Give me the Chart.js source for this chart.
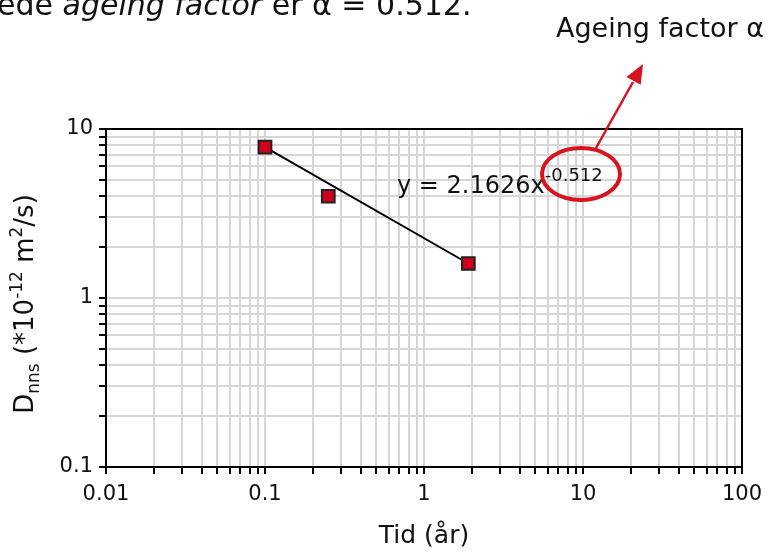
<!DOCTYPE html>
<html>
<head>
<meta charset="utf-8">
<script src="https://cdn.jsdelivr.net/npm/chart.js@4"></script>
<style>
  body { margin: 0; background: #fff; }
  canvas { display: block; }
</style>
</head>
<body>
<canvas id="chart" width="775" height="551"></canvas>
<script>
// values
const timeYears = [0.1, 0.25, 1.9];
const dnnsValues = [7.8, 4.0, 1.6];
const trendX = [0.1, 1.9];
const trendY = [7.8, 1.6];
const xTickLabels = ['0.01', '0.1', '1', '10', '100'];
const yTickLabels = ['0.1', '1', '10'];

const FONT = '"DejaVu Sans", Verdana, sans-serif';
const TXT = '#111';
const RED = '#d7141e';

function logTicks(min, max) {
    const out = [];
    for (let e = Math.round(Math.log10(min)); e < Math.round(Math.log10(max)); e++) {
        for (let s = 1; s < 10; s++) out.push({ value: Number((s * Math.pow(10, e)).toPrecision(3)) });
    }
    out.push({ value: max });
    return out;
}

// draws runs of text with sub/superscript; returns total width
function drawRuns(ctx, runs, x, y, measureOnly) {
    let w = 0;
    runs.forEach(r => {
        ctx.font = (r.style || '') + ' ' + r.size + 'px ' + FONT;
        if (!measureOnly) ctx.fillText(r.t, x + w, y + (r.dy || 0));
        w += ctx.measureText(r.t).width;
    });
    return w;
}

const decorations = {
    id: 'decorations',
    afterDraw(chart) {
        const ctx = chart.ctx;
        const a = chart.chartArea;
        ctx.save();
        // frame round the plot
        ctx.strokeStyle = '#000';
        ctx.lineWidth = 2;
        ctx.strokeRect(a.left, a.top, a.right - a.left, a.bottom - a.top);

        ctx.fillStyle = TXT;
        ctx.textBaseline = 'alphabetic';
        ctx.textAlign = 'left';

        // cut-off paragraph line at the very top
        drawRuns(ctx, [
            { t: 'ede ', size: 30 },
            { t: 'ageing factor', size: 30, style: 'italic' },
            { t: ' er α = 0.512.', size: 30 }
        ], -3, 15);

        // annotation label
        ctx.font = '27px ' + FONT;
        ctx.fillText('Ageing factor α', 556, 37);

        // equation
        drawRuns(ctx, [
            { t: 'y = 2.1626x', size: 24 },
            { t: '-0.512', size: 18, dy: -12 }
        ], 397, 193);

        // red ellipse and arrow
        ctx.strokeStyle = RED;
        ctx.fillStyle = RED;
        ctx.lineWidth = 4;
        ctx.beginPath();
        ctx.ellipse(581, 174, 39, 26, 0, 0, Math.PI * 2);
        ctx.stroke();
        ctx.lineWidth = 2.5;
        ctx.beginPath();
        ctx.moveTo(596, 148);
        ctx.lineTo(633, 82);
        ctx.stroke();
        const tipX = 643, tipY = 64;
        const ang = Math.atan2(tipY - 148, tipX - 596);
        ctx.beginPath();
        ctx.moveTo(tipX, tipY);
        ctx.lineTo(tipX - 21 * Math.cos(ang - 0.4), tipY - 21 * Math.sin(ang - 0.4));
        ctx.lineTo(tipX - 21 * Math.cos(ang + 0.4), tipY - 21 * Math.sin(ang + 0.4));
        ctx.closePath();
        ctx.fill();

        // axis titles
        ctx.fillStyle = TXT;
        ctx.font = '25px ' + FONT;
        ctx.textAlign = 'center';
        ctx.fillText('Tid (år)', 424, 543);

        const yRuns = [
            { t: 'D', size: 26 },
            { t: 'nns', size: 17, dy: 6 },
            { t: ' (*10', size: 26 },
            { t: '-12', size: 17, dy: -11 },
            { t: ' m', size: 26 },
            { t: '2', size: 17, dy: -11 },
            { t: '/s)', size: 26 }
        ];
        ctx.textAlign = 'left';
        const w = drawRuns(ctx, yRuns, 0, 0, true);
        ctx.translate(33, 304);
        ctx.rotate(-Math.PI / 2);
        drawRuns(ctx, yRuns, -w / 2, 0);
        ctx.restore();
    }
};

new Chart(document.getElementById('chart'), {
    type: 'scatter',
    data: {
        datasets: [
            {
                label: 'trend',
                data: trendX.map((x, i) => ({ x: x, y: trendY[i] })),
                showLine: true,
                borderColor: '#000',
                borderWidth: 2,
                pointRadius: 0,
                order: 2
            },
            {
                label: 'Dnns',
                data: timeYears.map((x, i) => ({ x: x, y: dnnsValues[i] })),
                pointStyle: 'rect',
                pointRadius: 9,
                pointHoverRadius: 9,
                backgroundColor: '#d0021b',
                borderColor: '#222',
                borderWidth: 2,
                order: 1
            }
        ]
    },
    options: {
        responsive: false,
        animation: false,
        layout: { padding: { left: 0, top: 129, right: 33, bottom: 0 } },
        plugins: { legend: { display: false }, tooltip: { enabled: false } },
        scales: {
            x: {
                type: 'logarithmic',
                min: 0.01,
                max: 100,
                afterBuildTicks: s => { s.ticks = logTicks(0.01, 100); },
                afterFit: s => { s.height = 84; },
                grid: { color: '#d6d6d6', lineWidth: 2, tickColor: '#000', tickLength: 7 },
                border: { color: '#000', width: 2 },
                ticks: {
                    autoSkip: false,
                    maxRotation: 0,
                    padding: 8,
                    color: TXT,
                    font: { family: FONT, size: 21 },
                    callback: v => { const l = xTickLabels.find(t => Number(t) === v); return l || ''; }
                }
            },
            y: {
                type: 'logarithmic',
                min: 0.1,
                max: 10,
                afterBuildTicks: s => { s.ticks = logTicks(0.1, 10); },
                afterFit: s => { s.width = 106; },
                grid: { color: '#d6d6d6', lineWidth: 2, tickColor: '#000', tickLength: 7 },
                border: { color: '#000', width: 2 },
                ticks: {
                    autoSkip: false,
                    padding: 6,
                    color: TXT,
                    font: { family: FONT, size: 21 },
                    callback: v => { const l = yTickLabels.find(t => Number(t) === v); return l || ''; }
                }
            }
        }
    },
    plugins: [decorations]
});
</script>
</body>
</html>
